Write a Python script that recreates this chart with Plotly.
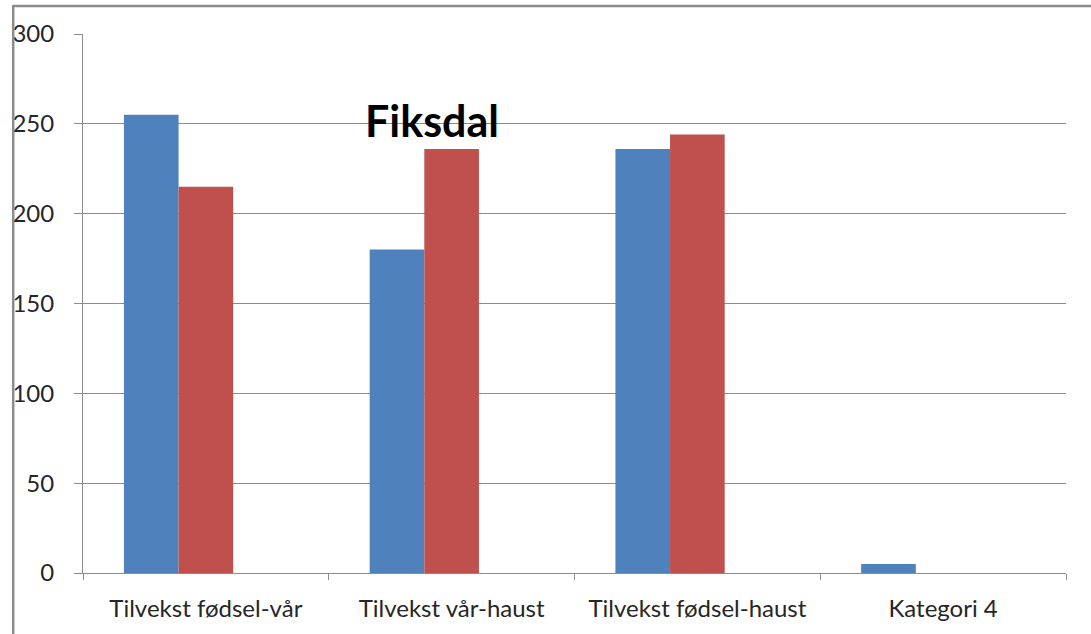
import plotly.graph_objects as go

# data
kategoriar = ["Tilvekst fødsel-vår", "Tilvekst vår-haust", "Tilvekst fødsel-haust", "Kategori 4"]
serie1 = [255, 180, 236, 5]
serie2 = [215, 236, 244, 0]
serie3 = [None, None, None, None]

fig = go.Figure()
fig.add_bar(x=kategoriar, y=serie1, marker_color="#4F81BD", name="Serie 1")
fig.add_bar(x=kategoriar, y=serie2, marker_color="#C0504D", name="Serie 2")
fig.add_bar(x=kategoriar, y=serie3, marker_color="#9BBB59", name="Serie 3")

fig.update_layout(
    width=1091, height=634,
    margin=dict(l=80, r=25, t=34, b=60),
    barmode="group", bargap=0.333, bargroupgap=0,
    plot_bgcolor="white", paper_bgcolor="white",
    showlegend=False,
    font=dict(family="Lato, Open Sans, sans-serif", size=24, color="#262626"),
)
fig.update_traces(marker_line_width=0)

fig.update_yaxes(
    range=[0, 300], dtick=50,
    showgrid=True, gridcolor="#8C8C8C", gridwidth=1,
    showline=True, linecolor="#8C8C8C", linewidth=1,
    ticks="outside", ticklen=8, tickcolor="#8C8C8C",
    ticklabelstandoff=15, zeroline=False,
)
fig.update_xaxes(
    showline=True, linecolor="#8C8C8C", linewidth=1,
    ticks="outside", ticklen=6, tickcolor="#8C8C8C",
    tickson="boundaries", ticklabelstandoff=14,
)

# title sits inside the plot, overlaying the grid
fig.add_annotation(
    text="<b>Fiksdal</b>", x=0.355, y=0.839, xref="paper", yref="paper",
    xanchor="center", yanchor="middle",
    showarrow=False, font=dict(size=43, color="black", family="Lato, sans-serif"),
)

# frame of the chart area (only top and left edges are visible in the crop)
fig.add_shape(type="line", xref="paper", yref="paper",
              x0=-70 / 986, x1=1.05, y0=1 + 28 / 540, y1=1 + 28 / 540,
              line=dict(color="#8C8C8C", width=2.5))
fig.add_shape(type="line", xref="paper", yref="paper",
              x0=-70 / 986, x1=-70 / 986, y0=1 + 29 / 540, y1=-0.12,
              line=dict(color="#8C8C8C", width=2.5))

fig.write_html("out.html", config={"displayModeBar": False},
               post_script="document.body.style.margin='0';")
